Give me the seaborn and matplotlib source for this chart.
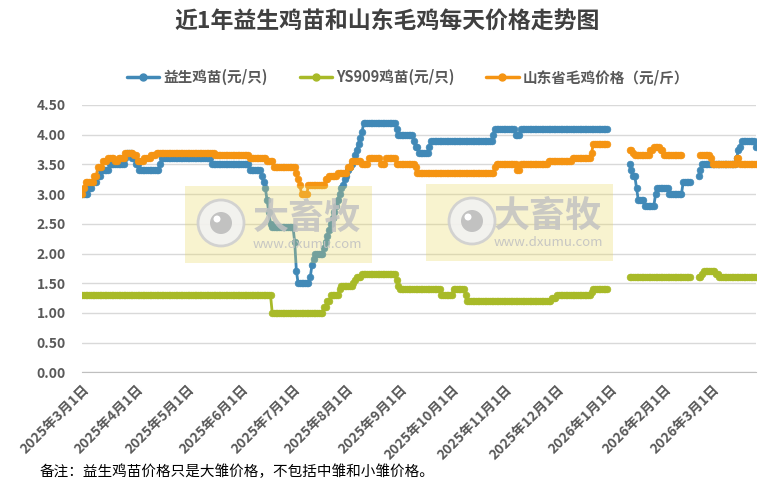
import pandas as pd
import numpy as np
import seaborn as sns
import matplotlib.pyplot as plt
from matplotlib.lines import Line2D
from matplotlib.patches import Rectangle, Ellipse

sns.set_style('white')
plt.rcParams['font.family'] = ['Noto Sans CJK SC', 'DejaVu Sans']

# price change points (value holds until next change)
yisheng_dates = ['2025-03-01', '2025-03-05', '2025-03-07', '2025-03-10', '2025-03-12', '2025-03-17',
                 '2025-03-26', '2025-03-27', '2025-03-30', '2025-04-01', '2025-04-03', '2025-04-15',
                 '2025-04-16', '2025-05-15', '2025-06-06', '2025-06-13', '2025-06-14', '2025-06-15',
                 '2025-06-16', '2025-06-17', '2025-06-18', '2025-06-19', '2025-07-02', '2025-07-03',
                 '2025-07-04', '2025-07-11', '2025-07-12', '2025-07-13', '2025-07-14', '2025-07-19',
                 '2025-07-20', '2025-07-21', '2025-07-22', '2025-07-23', '2025-07-24', '2025-07-25',
                 '2025-07-26', '2025-07-27', '2025-07-28', '2025-07-29', '2025-07-30', '2025-07-31',
                 '2025-08-01', '2025-08-02', '2025-08-03', '2025-08-04', '2025-08-05', '2025-08-06',
                 '2025-08-07', '2025-08-08', '2025-08-09', '2025-08-10', '2025-08-11', '2025-08-30',
                 '2025-08-31', '2025-09-09', '2025-09-10', '2025-09-12', '2025-09-18', '2025-09-19',
                 '2025-10-25', '2025-10-26', '2025-11-07', '2025-11-10',
                 '2026-01-12', '2026-01-13', '2026-01-14', '2026-01-16', '2026-01-17', '2026-01-21',
                 '2026-01-27', '2026-01-28', '2026-02-04', '2026-02-12',
                 '2026-02-21', '2026-02-22', '2026-02-23', '2026-03-15', '2026-03-16', '2026-03-17',
                 '2026-03-18', '2026-03-26']
yisheng_price = [3.0, 3.1, 3.2, 3.3, 3.4, 3.5,
                 3.6, 3.7, 3.6, 3.5, 3.4, 3.5,
                 3.6, 3.5, 3.4, 3.3, 3.2, 3.1,
                 2.9, 2.7, 2.5, 2.45, 2.2, 1.7,
                 1.5, 1.6, 1.8, 1.9, 2.0, 2.1,
                 2.2, 2.3, 2.4, 2.5, 2.6, 2.7,
                 2.8, 2.9, 3.0, 3.1, 3.15, 3.25,
                 3.3, 3.4, 3.45, 3.5, 3.55, 3.65,
                 3.75, 3.85, 3.95, 4.05, 4.2, 4.1,
                 4.0, 3.9, 3.8, 3.7, 3.8, 3.9,
                 4.0, 4.1, 4.0, 4.1,
                 3.5, 3.4, 3.3, 3.1, 2.9, 2.8,
                 3.0, 3.1, 3.0, 3.2,
                 3.3, 3.4, 3.5, 3.6, 3.75, 3.8,
                 3.9, 3.8]
yisheng_start = ['2025-03-01', '2026-01-12', '2026-02-21']
yisheng_end = ['2025-12-30', '2026-02-16', '2026-03-26']

ys909_dates = ['2025-03-01', '2025-06-19', '2025-07-19', '2025-07-21', '2025-07-23', '2025-07-28',
               '2025-07-29', '2025-08-05', '2025-08-06', '2025-08-07', '2025-08-10', '2025-08-30',
               '2025-08-31', '2025-09-01', '2025-09-25', '2025-10-02', '2025-10-09', '2025-10-10',
               '2025-11-28', '2025-12-01', '2025-12-21', '2025-12-22',
               '2026-01-12',
               '2026-02-21', '2026-02-23', '2026-02-24', '2026-03-03', '2026-03-05']
ys909_price = [1.3, 1.0, 1.1, 1.2, 1.3, 1.4,
               1.45, 1.5, 1.55, 1.6, 1.65, 1.55,
               1.45, 1.4, 1.3, 1.4, 1.3, 1.2,
               1.25, 1.3, 1.35, 1.4,
               1.6,
               1.6, 1.65, 1.7, 1.65, 1.6]
ys909_start = ['2025-03-01', '2026-01-12', '2026-02-21']
ys909_end = ['2025-12-30', '2026-02-16', '2026-03-26']

maoji_dates = ['2025-03-01', '2025-03-02', '2025-03-03', '2025-03-08', '2025-03-10', '2025-03-13',
               '2025-03-16', '2025-03-20', '2025-03-22', '2025-03-26', '2025-03-31', '2025-04-02',
               '2025-04-06', '2025-04-10', '2025-04-13', '2025-05-17', '2025-06-06', '2025-06-16',
               '2025-06-20', '2025-07-03', '2025-07-04', '2025-07-05', '2025-07-06', '2025-07-10',
               '2025-07-20', '2025-07-22', '2025-07-27', '2025-08-02', '2025-08-04', '2025-08-10',
               '2025-08-14', '2025-08-21', '2025-08-24', '2025-08-30', '2025-09-10', '2025-09-11',
               '2025-10-26', '2025-10-27', '2025-11-08', '2025-11-10', '2025-11-26', '2025-12-10',
               '2025-12-21', '2025-12-22',
               '2026-01-12', '2026-01-14', '2026-01-15', '2026-01-24', '2026-01-26', '2026-01-30',
               '2026-02-01',
               '2026-02-22', '2026-02-28', '2026-03-01', '2026-03-15', '2026-03-17']
maoji_price = [3.0, 3.1, 3.2, 3.3, 3.45, 3.55,
               3.6, 3.55, 3.6, 3.7, 3.65, 3.55,
               3.6, 3.65, 3.7, 3.65, 3.6, 3.55,
               3.45, 3.35, 3.25, 3.15, 3.0, 3.15,
               3.25, 3.3, 3.35, 3.45, 3.55, 3.5,
               3.6, 3.5, 3.6, 3.5, 3.45, 3.35,
               3.45, 3.5, 3.4, 3.5, 3.55, 3.6,
               3.7, 3.85,
               3.75, 3.7, 3.65, 3.75, 3.8, 3.75,
               3.65,
               3.65, 3.6, 3.5, 3.6, 3.5]
maoji_start = ['2025-03-01', '2026-01-12', '2026-02-22']
maoji_end = ['2025-12-30', '2026-02-11', '2026-03-26']

month_ticks = pd.date_range('2025-03-01', '2026-03-01', freq='MS')
month_labels = ['2025年3月1日', '2025年4月1日', '2025年5月1日', '2025年6月1日', '2025年7月1日',
                '2025年8月1日', '2025年9月1日', '2025年10月1日', '2025年11月1日', '2025年12月1日',
                '2026年1月1日', '2026年2月1日', '2026年3月1日']


def daily(dates, prices, starts, ends):
    s = pd.Series(prices, index=pd.to_datetime(dates))
    s = s.reindex(pd.date_range(starts[0], ends[-1])).ffill()
    parts = []
    for i, (a, b) in enumerate(zip(starts, ends)):
        p = s[a:b].rename('price').to_frame()
        p['seg'] = i
        parts.append(p)
    return pd.concat(parts).rename_axis('date').reset_index()


series = [
    ('益生鸡苗(元/只)', daily(yisheng_dates, yisheng_price, yisheng_start, yisheng_end), '#4189B7'),
    ('YS909鸡苗(元/只)', daily(ys909_dates, ys909_price, ys909_start, ys909_end), '#A8BA28'),
    ('山东省毛鸡价格（元/斤）', daily(maoji_dates, maoji_price, maoji_start, maoji_end), '#F59412'),
]

fig = plt.figure(figsize=(7.75, 4.91), dpi=100)
ax = fig.add_axes([82.3 / 775, 1 - 372.3 / 491, (755.7 - 82.3) / 775, (372.3 - 105) / 491])

for name, df, c in series:
    sns.lineplot(data=df, x='date', y='price', units='seg', estimator=None, ax=ax,
                 color=c, linewidth=2, marker='o', markersize=4.8,
                 markeredgecolor=c, markeredgewidth=0.5, legend=False)

ax.set_xlim(pd.Timestamp('2025-03-01'), pd.Timestamp('2026-03-26'))
ax.set_ylim(0, 4.5)
ax.set_yticks(np.arange(0, 4.51, 0.5))
ax.set_yticklabels(['%.2f' % v for v in np.arange(0, 4.51, 0.5)])
ax.set_xticks(month_ticks)
ax.set_xticklabels(month_labels, rotation=45, ha='right', rotation_mode='anchor')
ax.set_xlabel('')
ax.set_ylabel('')
ax.yaxis.grid(True, color='#D9D9D9', linewidth=1)
ax.xaxis.grid(False)
ax.set_axisbelow(True)
for side in ['top', 'right', 'left']:
    ax.spines[side].set_visible(False)
ax.spines['bottom'].set_color('#BFBFBF')
ax.tick_params(axis='y', length=0, pad=12, labelsize=10, labelcolor='#595959')
ax.tick_params(axis='x', length=4, color='#BFBFBF', pad=3, labelsize=10, labelcolor='#595959')
for t in ax.get_xticklabels() + ax.get_yticklabels():
    t.set_fontweight('bold')

fig.text(0.5, 0.955, '近1年益生鸡苗和山东毛鸡每天价格走势图', ha='center', va='center',
         fontsize=16.5, fontweight='bold', color='#404040')

handles = [Line2D([], [], color=c, lw=2.5, marker='o', markersize=5) for _, _, c in series]
leg = fig.legend(handles, [n for n, _, _ in series], loc='center', bbox_to_anchor=(408 / 775, 0.843),
                 ncol=3, frameon=False, fontsize=10.5, handlelength=2.2, columnspacing=2.2,
                 handletextpad=0.3)
for t in leg.get_texts():
    t.set_color('#595959')
    t.set_fontweight('bold')

fig.text(40 / 775, 1 - 472 / 491, '备注：益生鸡苗价格只是大雏价格，不包括中雏和小雏价格。',
         ha='left', va='center', fontsize=10.5, color='black')

# dxumu watermarks
for x0, y0, cx, tx in [(185, 186, 221, 307), (426, 184, 472, 548)]:
    fig.add_artist(Rectangle((x0 / 775, 1 - (y0 + 77) / 491), 187 / 775, 77 / 491,
                             facecolor='#E8D860', alpha=0.3, edgecolor='none', zorder=10))
    cy = 1 - (y0 + 37) / 491
    fig.add_artist(Ellipse((cx / 775, cy), 46 / 775, 46 / 491, facecolor='#F2F2F2',
                           edgecolor='#CFCFCF', lw=2, alpha=0.9, zorder=11))
    fig.add_artist(Ellipse((cx / 775, cy), 22 / 775, 22 / 491, facecolor='#BDBDBD',
                           edgecolor='none', alpha=0.9, zorder=12))
    fig.add_artist(Ellipse(((cx - 4) / 775, cy + 4 / 491), 7 / 775, 7 / 491, facecolor='white',
                           edgecolor='none', zorder=13))
    fig.text(tx / 775, 1 - (y0 + 32) / 491, '大畜牧', ha='center', va='center', fontsize=26,
             fontweight='bold', color='#C2C2C2', alpha=0.85, zorder=12)
    fig.text(tx / 775, 1 - (y0 + 58) / 491, 'www.dxumu.com', ha='center', va='center', fontsize=9.5,
             color='#C2C2C2', alpha=0.9, zorder=12)

fig.savefig('out.png', dpi=100)
